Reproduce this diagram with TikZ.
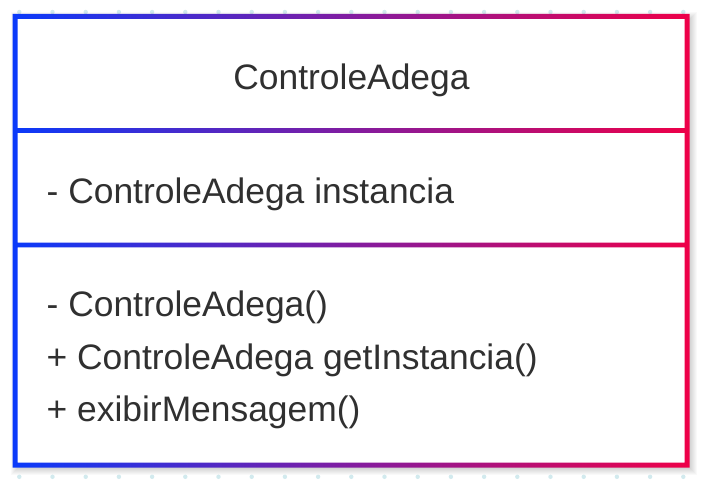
\documentclass[tikz,border=0pt]{standalone}
\usepackage{fontspec}
\setmainfont{Liberation Sans}
\definecolor{txt}{HTML}{303030}
\definecolor{dotc}{HTML}{D2EAEE}
\definecolor{gleft}{RGB}{10,58,250}
\definecolor{gmid}{RGB}{130,28,160}
\definecolor{gright}{RGB}{238,0,72}
\tikzset{
  member/.style={anchor=base west, inner sep=0pt, text=txt,
    font=\fontsize{35.4bp}{42bp}\selectfont},
  title/.style={anchor=base, inner sep=0pt, text=txt,
    font=\fontsize{35.4bp}{42bp}\selectfont},
}
\begin{document}
\begin{tikzpicture}[x=1bp,y=-1bp]
\useasboundingbox (0,0) rectangle (710,485);
\fill[white] (0,0) rectangle (710,485);
% dotted canvas grid
\foreach \i in {0,...,21}
  \foreach \j in {0,...,14}
    \fill[dotc] ({19.3+33.2*\i},{12+33.2*\j}) circle (2.2);
% soft drop shadow
\foreach \k in {1,...,7}
  \fill[black, opacity=0.022]
    ({15-\k+2.5},{16.5-\k+3}) rectangle ({687+\k+2.5},{465+\k+3});
% class box body
\fill[white] (15,16.5) rectangle (687,465);
% gradient frame and compartment separators
\shade[left color=gleft, right color=gright, middle color=gmid]
  (12.5,14) rectangle (689.5,19)
  (12.5,462.5) rectangle (689.5,467.5)
  (12.5,14) rectangle (17.5,467.5)
  (684.5,14) rectangle (689.5,467.5)
  (12.5,128.2) rectangle (689.5,132.8)
  (12.5,242.7) rectangle (689.5,247.3);
% name compartment
\node[title] (name) at (351.5,89.3) {ControleAdega};
% attribute compartment
\node[member] (attr) at (46.5,203.3) {- ControleAdega instancia};
% operation compartment
\node[member] (op1) at (46.5,316.8) {- ControleAdega()};
\node[member] (op2) at (46.5,369.3) {+ ControleAdega getInstancia()};
\node[member] (op3) at (46.5,421.8) {+ exibirMensagem()};
\end{tikzpicture}
\end{document}
